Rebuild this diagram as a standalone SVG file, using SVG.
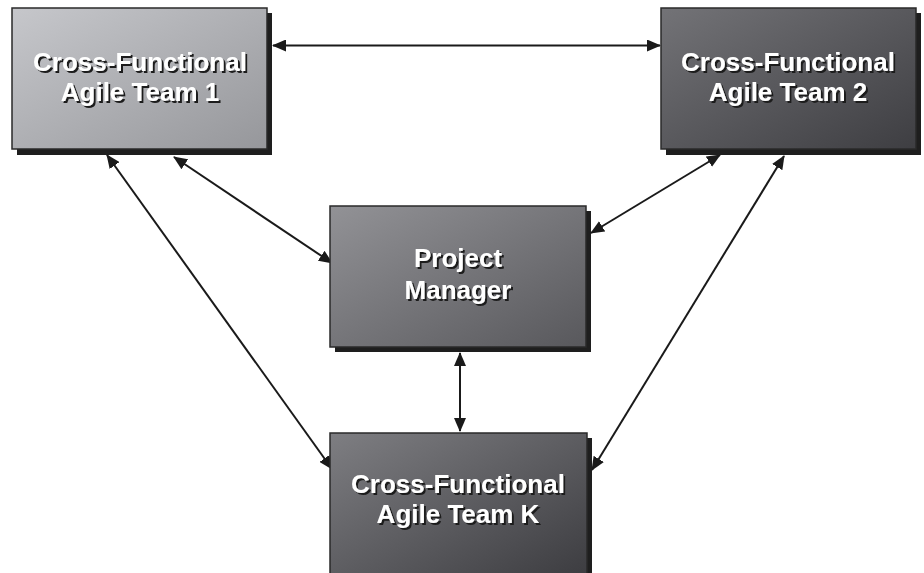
<svg xmlns="http://www.w3.org/2000/svg" width="924" height="573" viewBox="0 0 924 573">
  <defs>
    <linearGradient id="g1" x1="0" y1="0" x2="1" y2="1">
      <stop offset="0" stop-color="#c6c7cb"/>
      <stop offset="1" stop-color="#96979b"/>
    </linearGradient>
    <linearGradient id="g2" x1="0" y1="0" x2="1" y2="1">
      <stop offset="0" stop-color="#737377"/>
      <stop offset="1" stop-color="#3e3e42"/>
    </linearGradient>
    <linearGradient id="gpm" x1="0" y1="0" x2="1" y2="1">
      <stop offset="0" stop-color="#929296"/>
      <stop offset="1" stop-color="#58585c"/>
    </linearGradient>
    <linearGradient id="gk" x1="0" y1="0" x2="1" y2="1">
      <stop offset="0" stop-color="#7e7e82"/>
      <stop offset="1" stop-color="#3c3c40"/>
    </linearGradient>
    <!-- dark drop shadow behind the white labels -->
    <filter id="textShadow" x="-10%" y="-30%" width="120%" height="160%">
      <feDropShadow dx="2" dy="2" stdDeviation="0.4" flood-color="#1a1a1a" flood-opacity="1"/>
    </filter>
    <marker id="arrow" viewBox="0 0 14 12" refX="13" refY="6" markerWidth="14" markerHeight="12" markerUnits="userSpaceOnUse" orient="auto-start-reverse">
      <path d="M0,0 L14,6 L0,12 Z" fill="#1a1a1a"/>
    </marker>
  </defs>
  <style>
    .shadow { fill: #1e1e1e; }
    .box { stroke: #2a2a2a; stroke-width: 1.5; }
    .label { font-family: "Liberation Sans", Arial, sans-serif; font-weight: bold; font-size: 26px; text-anchor: middle; fill: #ffffff; filter: url(#textShadow); }
    .link { stroke: #1a1a1a; stroke-width: 2; fill: none; marker-start: url(#arrow); marker-end: url(#arrow); }
  </style>

  <rect width="924" height="573" fill="#ffffff"/>

  <!-- connectors -->
  <g id="connectors">
    <line class="link" x1="273" y1="45.5" x2="660" y2="45.5"/>
    <line class="link" x1="174" y1="157" x2="332" y2="263"/>
    <line class="link" x1="107" y1="155" x2="332" y2="469"/>
    <line class="link" x1="720" y1="155" x2="591" y2="233"/>
    <line class="link" x1="784" y1="156" x2="592" y2="470"/>
    <line class="link" x1="460" y1="353" x2="460" y2="431"/>
  </g>

  <g id="team1">
    <rect class="shadow" x="17" y="13" width="255" height="142"/>
    <rect class="box" x="12" y="8" width="255" height="141" fill="url(#g1)"/>
    <text class="label" x="140" y="71">Cross-Functional</text>
    <text class="label" x="140" y="101">Agile Team 1</text>
  </g>

  <g id="team2">
    <rect class="shadow" x="666" y="13" width="255" height="142"/>
    <rect class="box" x="661" y="8" width="255" height="141" fill="url(#g2)"/>
    <text class="label" x="788" y="71">Cross-Functional</text>
    <text class="label" x="788" y="101">Agile Team 2</text>
  </g>

  <g id="manager">
    <rect class="shadow" x="335" y="211" width="256" height="141"/>
    <rect class="box" x="330" y="206" width="256" height="141" fill="url(#gpm)"/>
    <text class="label" x="458" y="267">Project</text>
    <text class="label" x="458" y="299">Manager</text>
  </g>

  <g id="teamK">
    <rect class="shadow" x="335" y="438" width="257" height="145"/>
    <rect class="box" x="330" y="433" width="257" height="145" fill="url(#gk)"/>
    <text class="label" x="458" y="493">Cross-Functional</text>
    <text class="label" x="458" y="523">Agile Team K</text>
  </g>
</svg>
